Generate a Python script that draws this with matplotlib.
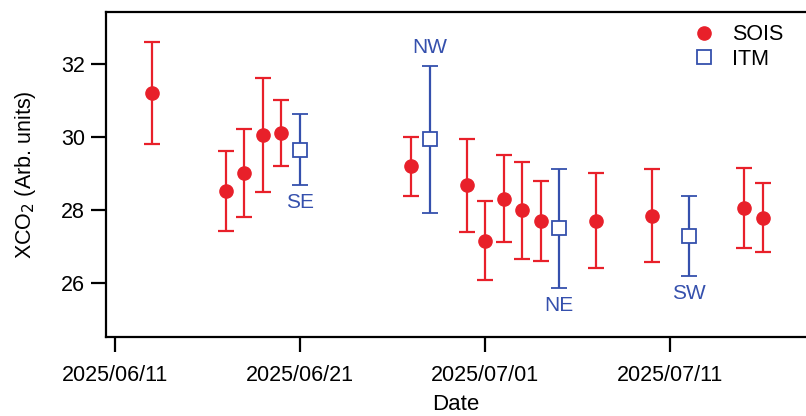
import matplotlib
matplotlib.use("Agg")
import matplotlib.pyplot as plt
import matplotlib.dates as mdates
from matplotlib.lines import Line2D
from datetime import datetime, timedelta

plt.rcParams['font.family'] = ['Liberation Sans', 'DejaVu Sans']

# SOIS data
sois_dates = ["2025-06-13", "2025-06-17", "2025-06-18", "2025-06-19", "2025-06-20",
              "2025-06-27", "2025-06-30", "2025-07-01", "2025-07-02", "2025-07-03",
              "2025-07-04", "2025-07-07", "2025-07-10", "2025-07-15", "2025-07-16"]
sois_val = [31.21, 28.53, 29.00, 30.05, 30.10,
            29.19, 28.68, 27.15, 28.30, 28.00,
            27.70, 27.70, 27.84, 28.05, 27.77]
sois_hi = [32.61, 29.60, 30.21, 31.61, 31.01,
           30.01, 29.94, 28.25, 29.50, 29.31,
           28.80, 29.02, 29.12, 29.14, 28.75]
sois_lo = [29.81, 27.41, 27.80, 28.48, 29.21,
           28.38, 27.39, 26.07, 27.13, 26.66,
           26.61, 26.40, 26.58, 26.97, 26.84]

# ITM data
itm_dates = ["2025-06-21", "2025-06-28", "2025-07-05", "2025-07-12"]
itm_val = [29.64, 29.94, 27.50, 27.29]
itm_hi = [30.63, 31.95, 29.12, 28.39]
itm_lo = [28.68, 27.92, 25.87, 26.19]
itm_labels = ["SE", "NW", "NE", "SW"]
itm_label_pos = ["below", "above", "below", "below"]

xtick_dates = ["2025-06-11", "2025-06-21", "2025-07-01", "2025-07-11"]
yticks = [26, 28, 30, 32]

red = "#e8202a"
blue = "#3550ad"

def d(s):
    return datetime.strptime(s, "%Y-%m-%d")

fig = plt.figure(figsize=(8.06, 4.16), dpi=100)
ax = fig.add_axes([106/806, 79/416, 700/806, 325/416])

sx = [d(s) for s in sois_dates]
ix = [d(s) for s in itm_dates]

ax.errorbar(sx, sois_val,
            yerr=[[v - l for v, l in zip(sois_val, sois_lo)],
                  [h - v for v, h in zip(sois_val, sois_hi)]],
            fmt='o', color=red, ecolor=red, elinewidth=1.6, capsize=5.5, capthick=1.6,
            markersize=9.5, zorder=3)
ax.errorbar(ix, itm_val,
            yerr=[[v - l for v, l in zip(itm_val, itm_lo)],
                  [h - v for v, h in zip(itm_val, itm_hi)]],
            fmt='s', color=blue, ecolor=blue, elinewidth=1.6, capsize=5.5, capthick=1.6,
            markersize=9.5, markerfacecolor='white', markeredgecolor=blue, markeredgewidth=1.3,
            zorder=4)

for x, lo, hi, lab, pos in zip(ix, itm_lo, itm_hi, itm_labels, itm_label_pos):
    if pos == "below":
        ax.annotate(lab, (x, lo), xytext=(0, -6), textcoords='offset points',
                    ha='center', va='top', color=blue, fontsize=15)
    else:
        ax.annotate(lab, (x, hi), xytext=(0, 6), textcoords='offset points',
                    ha='center', va='bottom', color=blue, fontsize=15)

ax.set_xlim(d("2025-06-11") - timedelta(days=0.486), d("2025-06-11") + timedelta(days=37.35))
ax.set_ylim(24.52, 33.42)
ax.set_xticks([d(s) for s in xtick_dates])
ax.xaxis.set_major_formatter(mdates.DateFormatter("%Y/%m/%d"))
ax.set_yticks(yticks)

for side in ['left', 'bottom', 'top']:
    ax.spines[side].set_linewidth(1.6)
ax.spines['right'].set_visible(False)
ax.tick_params(axis='both', direction='out', length=11, width=1.6, labelsize=15.5)
ax.tick_params(axis='x', pad=9)
ax.tick_params(axis='y', pad=4)

ax.set_xlabel("Date", fontsize=16, labelpad=6)
ax.set_ylabel("XCO$_2$ (Arb. units)", fontsize=15.5, labelpad=17)

handles = [Line2D([], [], linestyle='none', marker='o', color=red, markersize=9.5),
           Line2D([], [], linestyle='none', marker='s', markerfacecolor='white',
                  markeredgecolor=blue, markeredgewidth=1.3, markersize=9.5)]
leg = ax.legend(handles, ["SOIS", "ITM"], loc='upper left',
                bbox_to_anchor=(568/700, 1.0 + 7/325), frameon=False, fontsize=15.5,
                handletextpad=0.8, labelspacing=0.15, handlelength=1.0, borderpad=0.4)

fig.savefig("out.png", dpi=100)
